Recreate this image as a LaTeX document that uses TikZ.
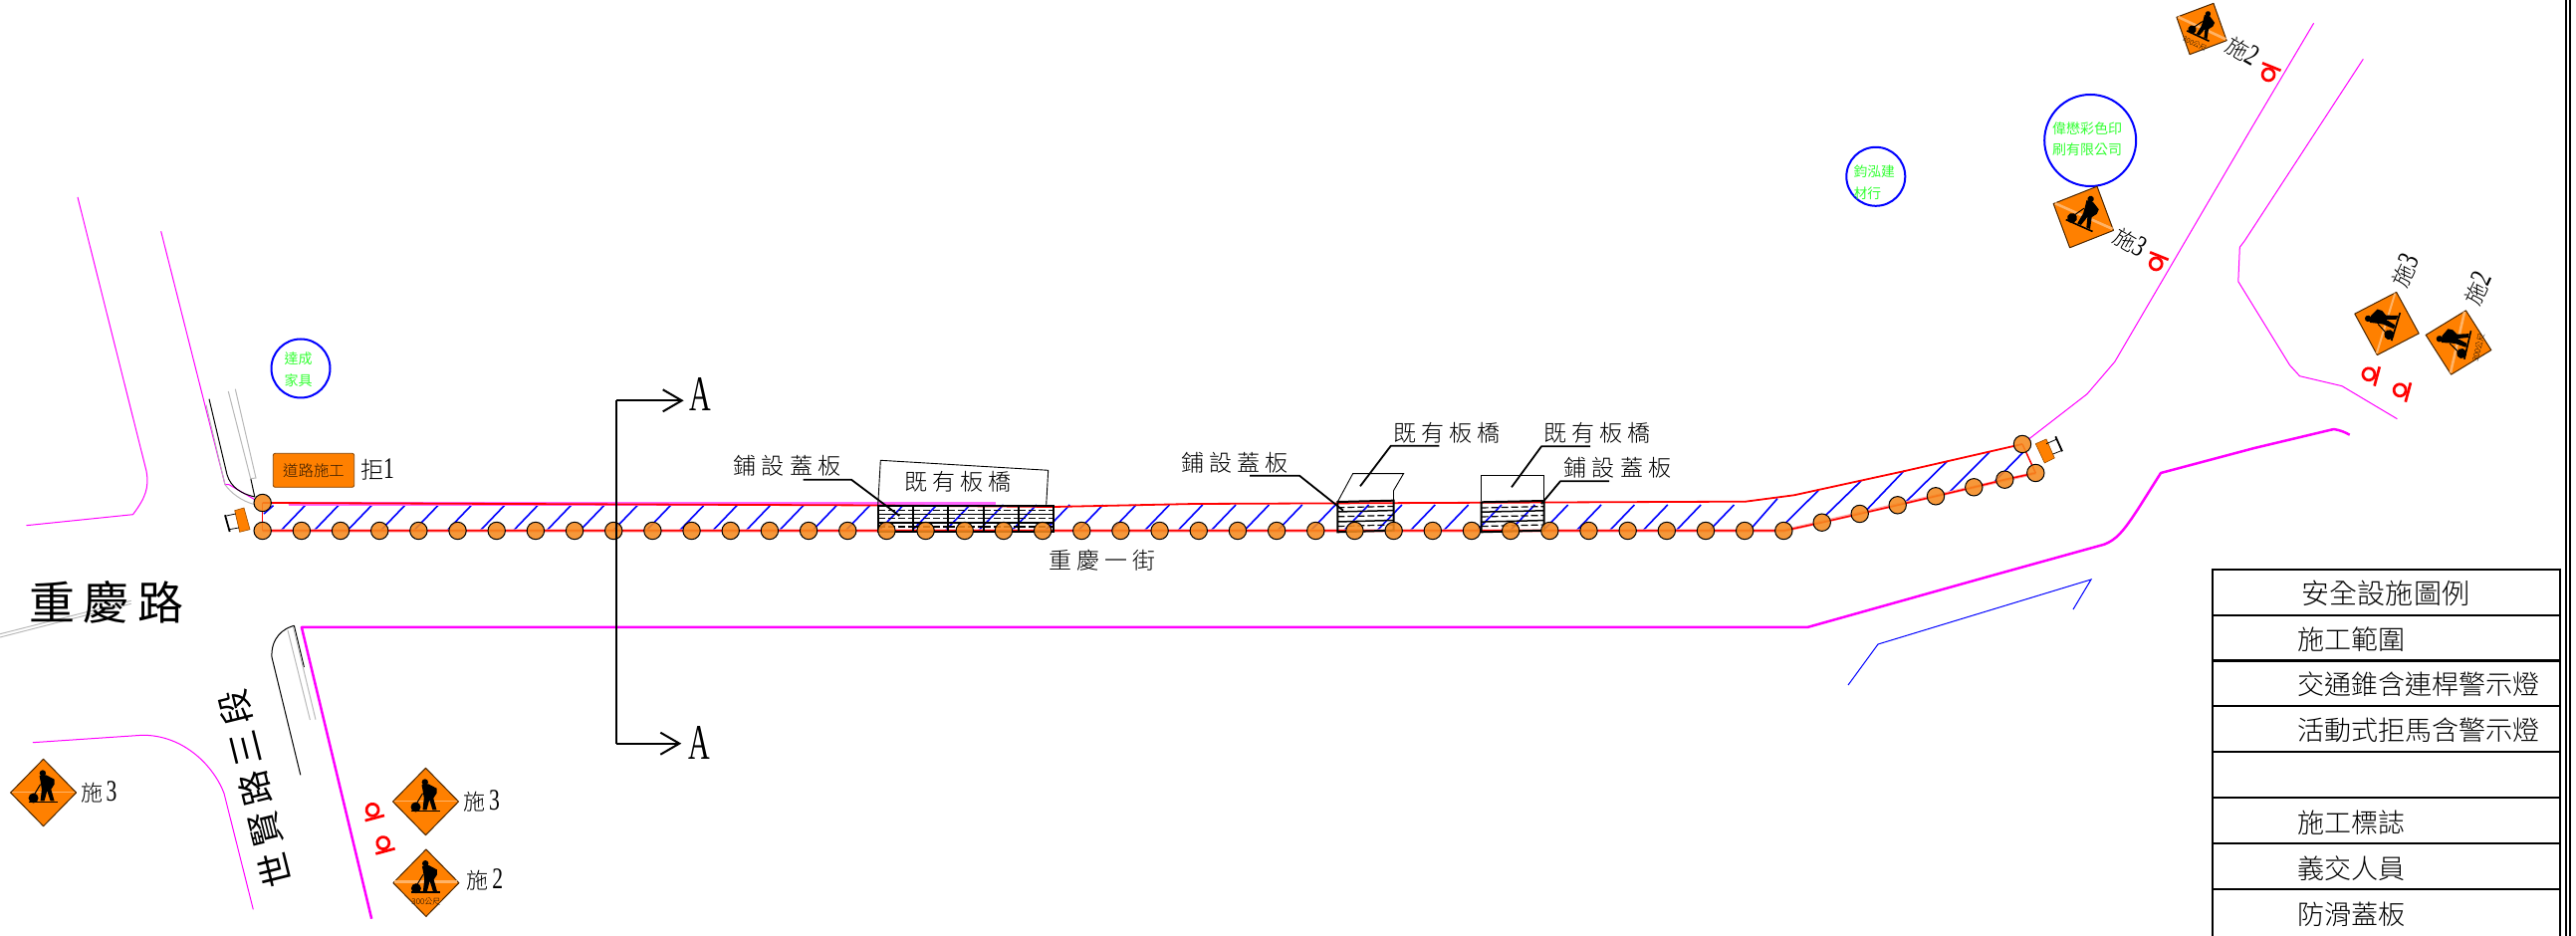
\documentclass[tikz,border=0pt]{standalone}
\usepackage{fontspec}
\usetikzlibrary{calc,arrows.meta,backgrounds}
\setmainfont{Liberation Serif}
\newfontfamily\cjk{Noto Sans CJK TC Light}
\newfontfamily\cjkb{Noto Sans CJK TC}
\newfontfamily\narrowA[FakeStretch=0.6]{Liberation Serif}
\newfontfamily\narrowd[FakeStretch=0.72]{Liberation Serif}
\newcommand\fs[1]{\fontsize{#1}{#1}\selectfont}
\newcommand\lspace[1]{\addfontfeature{LetterSpace=#1}}
\definecolor{mag}{HTML}{FF00FF}
\definecolor{signor}{HTML}{FF8000}
\definecolor{conef}{HTML}{F58A1F}
\definecolor{grn}{HTML}{33FF33}
\tikzset{
  txt/.style={inner sep=0pt,outer sep=0pt,text=black},
  cone/.style={circle,draw=black,line width=0.5pt,fill=conef,fill opacity=0.88,minimum size=8.7pt,inner sep=0pt,outer sep=0pt},
  roadthin/.style={mag,line width=0.5pt,line join=round},
  roadthick/.style={mag,line width=1.25pt,line join=round},
  curb/.style={black,line width=0.5pt},
  greyln/.style={black!28,line width=0.5pt},
  rline/.style={red,line width=0.9pt,line join=round},
  rhalo/.style={red!35,line width=1.6pt,line join=round},
  hatchln/.style={blue,line width=0.8pt},
  leader/.style={black,line width=0.9pt,line join=round},
  thinbox/.style={black,line width=0.45pt},
  bigcirc/.style={draw=blue,line width=1pt,fill=none},
  secln/.style={black,line width=1pt},
  legrow/.style={draw=black,line width=1.1pt,minimum width=174.5pt,anchor=north west,inner sep=0pt,outer sep=0pt},
  pics/worksign/.style={code={
    \fill[signor,draw=black!70!signor,line width=0.5pt,line join=round] (-33,0)--(0,-33.7)--(33,0)--(0,33.7)--cycle;
    \draw[signor!60!white,line width=#1] (-31.5,-1)--(31.5,-1);
    \fill[black] (-0.7,-19.5) circle (3.2);
    \fill[black] (-4,-16.7)--(2.7,-17.7)--(11,-13.3)--(11,-8.3)--(7.7,-3.3)--(11,8.3)--(7,8.3)--(3.7,-1.7)--(1,8.3)--(-3,8.3)--(-1.7,-3.3)--(-3,-11.7)--cycle;
    \draw[black,line width=0.8pt] (-15,9.5)--(14.3,9.5);
    \fill[black] (-10,5.5) circle (5);
    \draw[black,line width=0.5pt] (-3,-8.3)--(-9,1.7);
  }},
  pics/worksign/.default=0.5pt,
  pics/flagman/.style={code={
    \draw[red,line width=1.35pt] (0,-3.5) circle (6);
    \draw[red,line width=1.35pt] (-10,5)--(10,5);
  }},
}
\newcommand\brd[6]{%
  \coordinate (tl) at (#1,#3); \coordinate (tr) at (#2,#4);
  \coordinate (bl) at (#1,#5); \coordinate (br) at (#2,#6);
  \foreach \f in {0.19,0.49,0.81} \draw[black,line width=0.6pt,dash pattern=on 3.5pt off 1.5pt] ($(tl)!\f!(bl)$)--($(tr)!\f!(br)$);
  \foreach \f in {0.33,0.66} \draw[black,line width=0.75pt] ($(tl)!\f!(bl)$)--($(tr)!\f!(br)$);
  \draw[black,line width=1pt] (tl)--(tr)--(br)--(bl)--cycle;
}
\begin{document}
\begin{tikzpicture}[x=0.5pt,y=-0.5pt]
\useasboundingbox (0,0) rectangle (2587,940);

% cones (foreground)
\foreach \k [evaluate=\k as \xx using {263.7+39.17*\k}] in {0,...,39}
  \node[cone] (c\k) at (\xx,533) {};
\node[cone] (c40) at (1829.7,524.7) {};
\node[cone] (c41) at (1867.7,516) {};
\node[cone] (c42) at (1905.7,507.3) {};
\node[cone] (c43) at (1944,498.3) {};
\node[cone] (c44) at (1982.3,489.3) {};
\node[cone] (c45) at (2013.3,481.7) {};
\node[cone] (c46) at (2044.3,475) {};
\node[cone] (ta) at (263.7,505) {};
\node[cone] (tb) at (2031,446) {};

\begin{pgfonlayer}{background}
% road edges
\draw[roadthin] (78,198)--(147,473) .. controls (150,490) and (146,500) .. (133.5,516.7)--(26.5,527.7);
\draw[roadthin] (161.7,232.3)--(226,486.7)--(230,486.7)--(255.8,501.7);
\draw[greyln] (207,406.7)--(226,486.7) .. controls (232,495) and (242,503) .. (255.8,506.7);
\draw[curb] (210,400.7)--(228,476.7) .. controls (232,490) and (243,496) .. (255.8,499);
\draw[curb] (251.7,480)--(255.8,499);
\draw[greyln] (229.3,393)--(251.7,480.7)--(257,480)--(236.3,390.7);
\draw[roadthick] (373.2,922.7)--(302.9,630)--(1815,630)--(1993.3,580)--(2113.3,546.7) .. controls (2125,542) and (2132,535) .. (2150,506.7)--(2170,475)--(2264,450)--(2343.7,431) .. controls (2350,432) and (2355,434) .. (2359.7,436.7);
\draw[roadthin] (32.9,745.7)--(142.9,738.3) .. controls (185,738) and (215,770) .. (225,796.7)--(254.3,913.3);
\draw[curb] (295.4,628.3) .. controls (285,631) and (272,640) .. (273,660)--(301.8,778.3);
\draw[curb] (295.4,628.3)--(305.4,670);
\draw[greyln] (289,633)--(311.4,723);
\draw[greyln] (294.6,630)--(317,722.7);
\draw[greyln] (0,636.7)--(131.7,603.3);
\draw[greyln] (0,640)--(131.7,606.3);
\draw[roadthin] (tb)--(2096,395.7)--(2123.8,363.3)--(2259.3,131.7)--(2323.6,23.3);
\draw[roadthin] (2373.3,59.3)--(2254.3,241.7)--(2249.3,248.3)--(2247.8,282.7)--(2299.5,366.7)--(2309.5,377.7)--(2352,387.7)--(2407.4,420.7);
\draw[blue,line width=0.5pt] (1856,688)--(1886,647)--(2100,582)--(2082,612);
% hatch
\draw[hatchln] (265,516)--(274.5,507.7);
\foreach \k [evaluate=\k as \xb using {282+33.36*\k}, evaluate=\k as \xt using {282+33.36*\k+25}] in {0,...,43}
  \draw[hatchln] (\xb,533)--(\xt,507);
\draw[hatchln] (1756.7,533)--(1785,500.7);
\draw[hatchln] (1792.7,525.7)--(1826,492.7);
\draw[hatchln] (1833,518)--(1869,483);
\draw[hatchln] (1875,511.7)--(1912,473);
\draw[hatchln] (1913,505)--(1955.7,463);
\draw[hatchln] (1957,495)--(1998,454);
\draw[hatchln] (2001.7,485)--(2032,454);
% work zone edge
\draw[mag!60,line width=1.6pt] (290,506)--(1000,506);
\draw[rhalo] (c0.center)--(c39.center)--(c46.center);
\draw[rline] (ta.center)--(881,507.5)--(1058,509)--(1200,506)--(1753,503.7)--(1801.7,497.3)--(1913,473)--(tb.center);
\draw[red,line width=0.75pt] (c0.center)--(c39.center)--(c40.center)--(c41.center)--(c42.center)--(c43.center)--(c44.center)--(c45.center)--(c46.center);
\draw[red,line width=0.75pt] (ta.center)--(c0.center);
\draw[red,line width=0.75pt] (tb.center)--(c46.center);
% bridges and deck plates
\draw[thinbox] (881.7,507.3)--(884.3,462.3)--(1052.7,472.3)--(1050.7,507.3);
\draw[thinbox] (1343.3,504)--(1358.6,475.7)--(1409.5,475.7)--(1399.5,492.7)--(1399.5,503.3);
\draw[thinbox] (1487.5,503.3)--(1487.5,477.3)--(1550.7,477.3)--(1550.7,503.3);
\brd{881.7}{917}{507.7}{507.7}{534}{534}
\brd{917}{952.3}{507.7}{507.7}{534}{534}
\brd{952.3}{987.7}{507.7}{507.7}{534}{534}
\brd{987.7}{1023.3}{507.7}{507.7}{534}{534}
\brd{1023.3}{1058.3}{507.7}{507.7}{534}{534}
\brd{1343.3}{1399.5}{504}{502.7}{534.3}{532.7}
\brd{1487.5}{1550.7}{504.3}{503}{534.3}{532.7}
\end{pgfonlayer}

% barricades
\fill[signor,draw=black!40!signor,line width=0.3pt] (235.7,512.7)--(245,510)--(251,531.7)--(240.7,534.3)--cycle;
\draw[black,line width=0.9pt] (226,517.3)--(230.7,534);
\draw[black,line width=0.4pt] (226,518.3)--(236.7,516) (230,531.7)--(240,530);
\fill[signor,draw=black!40!signor,line width=0.3pt] (2044.3,445.7)--(2055,441)--(2063.3,460)--(2053.3,465)--cycle;
\draw[black,line width=0.9pt] (2064.3,438.3)--(2071,453.3);
\draw[black,line width=0.4pt] (2055,445.7)--(2065.7,441) (2061.7,456)--(2071,452.3);

% section line
\coordinate (secT) at (686.7,402.3);
\coordinate (secB) at (684.3,746.7);
\coordinate (secM1) at (619.3,402.3);
\coordinate (secM2) at (619.3,746.7);
\draw[secln,-{Straight Barb[length=9.5pt,width=11pt,line width=1pt]}] (secM1)--(secT);
\draw[secln,-{Straight Barb[length=9.5pt,width=11pt,line width=1pt]}] (secM2)--(secB);
\draw[secln] (secM1)--(secM2);
\node[txt] (aT) at (703,396) {\narrowA\fs{25}A};
\node[txt] (aB) at (702.7,746) {\narrowA\fs{25}A};

% leaders
\coordinate (l1a) at (806.7,481.7); \coordinate (l1b) at (855,481.7); \coordinate (l1c) at (903.3,518);
\draw[leader] (l1a)--(l1b)--(l1c);
\coordinate (l2a) at (1255,477.7); \coordinate (l2b) at (1305,477.7); \coordinate (l2c) at (1349,512.7);
\draw[leader] (l2a)--(l2b)--(l2c);
\coordinate (l3a) at (1445.4,447.7); \coordinate (l3b) at (1396.8,447.7); \coordinate (l3c) at (1366,488.3);
\draw[leader] (l3a)--(l3b)--(l3c);
\coordinate (l4a) at (1597,448.3); \coordinate (l4b) at (1548,448.3); \coordinate (l4c) at (1518,489.3);
\draw[leader] (l4a)--(l4b)--(l4c);
\coordinate (l5a) at (1616,483.3); \coordinate (l5b) at (1567,483.3); \coordinate (l5c) at (1548,506);
\draw[leader] (l5a)--(l5b)--(l5c);

% labels along the work zone
\node[txt] (t1) at (790.5,468) {\cjk\fs{11.5}\lspace{22}鋪設蓋板};
\node[txt] (t2) at (962,483.3) {\cjk\fs{11.5}\lspace{22}既有板橋};
\node[txt] (t3) at (1107,562.7) {\cjk\fs{11.5}\lspace{22}重慶一街};
\node[txt] (t4) at (1240,464.3) {\cjk\fs{11.5}\lspace{22}鋪設蓋板};
\node[txt] (t5) at (1453,435) {\cjk\fs{11.5}\lspace{22}既有板橋};
\node[txt] (t6) at (1604,435) {\cjk\fs{11.5}\lspace{22}既有板橋};
\node[txt] (t7) at (1624.5,470) {\cjk\fs{11.5}\lspace{22}鋪設蓋板};

% road names
\node[txt] (rn1) at (107,605) {\cjkb\fs{23}\lspace{18}重慶路};
\node[txt,rotate=104] (rn2) at (256.5,792) {\cjkb\fs{17.5}\lspace{20}世賢路三段};

% sign at start
\node[fill=signor,draw=black!50!signor,line width=0.4pt,rounded corners=1pt,minimum width=40.7pt,minimum height=17pt,inner sep=0pt] (rb) at (315,472.3) {\cjk\fs{7.7}\textcolor{black!80!signor}{道路施工}};
\node[txt] (rbl) at (379,471.7) {\cjk\fs{11.5}拒{\narrowd\fs{15}1}};

% premises
\node[bigcirc,circle,minimum size=29.5pt,inner sep=0pt] (p1) at (302,370) {};
\node[txt,text=grn] (p1a) at (299.7,360.7) {\cjkb\fs{7}達成};
\node[txt,text=grn] (p1b) at (299.7,381.7) {\cjkb\fs{7}家具};
\node[bigcirc,circle,minimum size=29.5pt,inner sep=0pt] (p2) at (1883.8,177.3) {};
\node[txt,text=grn] (p2a) at (1882.3,172.3) {\cjkb\fs{6.9}鈞泓建};
\node[txt,text=grn] (p2b) at (1875.4,194) {\cjkb\fs{6.9}材行};
\node[bigcirc,circle,minimum size=46pt,inner sep=0pt] (p3) at (2099.2,141) {};
\node[txt,text=grn] (p3a) at (2096,129.3) {\cjkb\fs{7}偉懋彩色印};
\node[txt,text=grn] (p3b) at (2096,150) {\cjkb\fs{7}刷有限公司};

% work signs
\pic at (43.6,796) {worksign};
\pic at (427.5,805) {worksign};
\pic at (427.9,886.7) {worksign=1.6pt};
\node[txt] (s300a) at (427.9,906) {\cjk\fs{4}300公尺};
\pic[rotate=-25,scale=0.84] at (2211,29) {worksign=1.3pt};
\pic[rotate=-24] at (2092.3,218) {worksign=1.3pt};
\pic[rotate=73] at (2397,325) {worksign=1pt};
\pic[rotate=77] at (2469,344) {worksign=1.3pt};
\node[txt,rotate=77] (s300b) at (2489,349) {\cjk\fs{4}300公尺};
\node[txt,rotate=-25] (s300c) at (2204,44) {\cjk\fs{3.5}300公尺};

\node[txt] (l1) at (99.3,795) {\cjk\fs{11}施\,{\narrowd\fs{15}3}};
\node[txt] (l2) at (483.8,804) {\cjk\fs{11}施\,{\narrowd\fs{15}3}};
\node[txt] (l3) at (487,883) {\cjk\fs{11}施\,{\narrowd\fs{15}2}};
\node[txt,rotate=-30] (l4) at (2252,51) {\cjk\fs{11}施{\narrowd\fs{15}2}};
\node[txt,rotate=-30] (l5) at (2139,243) {\cjk\fs{11}施{\narrowd\fs{15}3}};
\node[txt,rotate=65] (l6) at (2415,272) {\cjk\fs{11}施{\narrowd\fs{15}3}};
\node[txt,rotate=65] (l7) at (2487.7,290) {\cjk\fs{11}施{\narrowd\fs{15}2}};

% flaggers
\pic[rotate=15] at (375,816.7) {flagman};
\pic[rotate=15] at (385.7,850) {flagman};
\pic[rotate=158] at (2279.4,71.7) {flagman};
\pic[rotate=158] at (2166.5,261.7) {flagman};
\pic[rotate=75] at (2382.3,376.7) {flagman};
\pic[rotate=75] at (2413.5,392.7) {flagman};

% legend
\node[legrow,minimum height=23pt] (r0) at (2222,572) {};
\node[legrow,minimum height=22.75pt] (r1) at (2222,618) {};
\node[legrow,minimum height=22.75pt] (r2) at (2222,663.5) {};
\node[legrow,minimum height=23pt] (r3) at (2222,709) {};
\node[legrow,minimum height=23pt] (r4) at (2222,755) {};
\node[legrow,minimum height=23pt] (r5) at (2222,801) {};
\node[legrow,minimum height=23pt] (r6) at (2222,847) {};
\node[legrow,minimum height=27pt] (r7) at (2222,893) {};
\node[txt] (g0) at (2395.7,595.7) {\cjk\fs{14}\lspace{1}安全設施圖例};
\node[txt,anchor=west] (g1) at (2307,641.7) {\cjk\fs{13.5}施工範圍};
\node[txt,anchor=west] (g2) at (2307,687) {\cjk\fs{13.5}交通錐含連桿警示燈};
\node[txt,anchor=west] (g3) at (2307,733) {\cjk\fs{13.5}活動式拒馬含警示燈};
\node[txt,anchor=west] (g5) at (2307,825.7) {\cjk\fs{13.5}施工標誌};
\node[txt,anchor=west] (g6) at (2307,871.7) {\cjk\fs{13.5}義交人員};
\node[txt,anchor=west] (g7) at (2307,918) {\cjk\fs{13.5}防滑蓋板};

% frame at right
\draw[black,line width=1pt] (2577,0)--(2577,940);
\draw[black,line width=1pt] (2580.5,0)--(2580.5,940);
\end{tikzpicture}
\end{document}
